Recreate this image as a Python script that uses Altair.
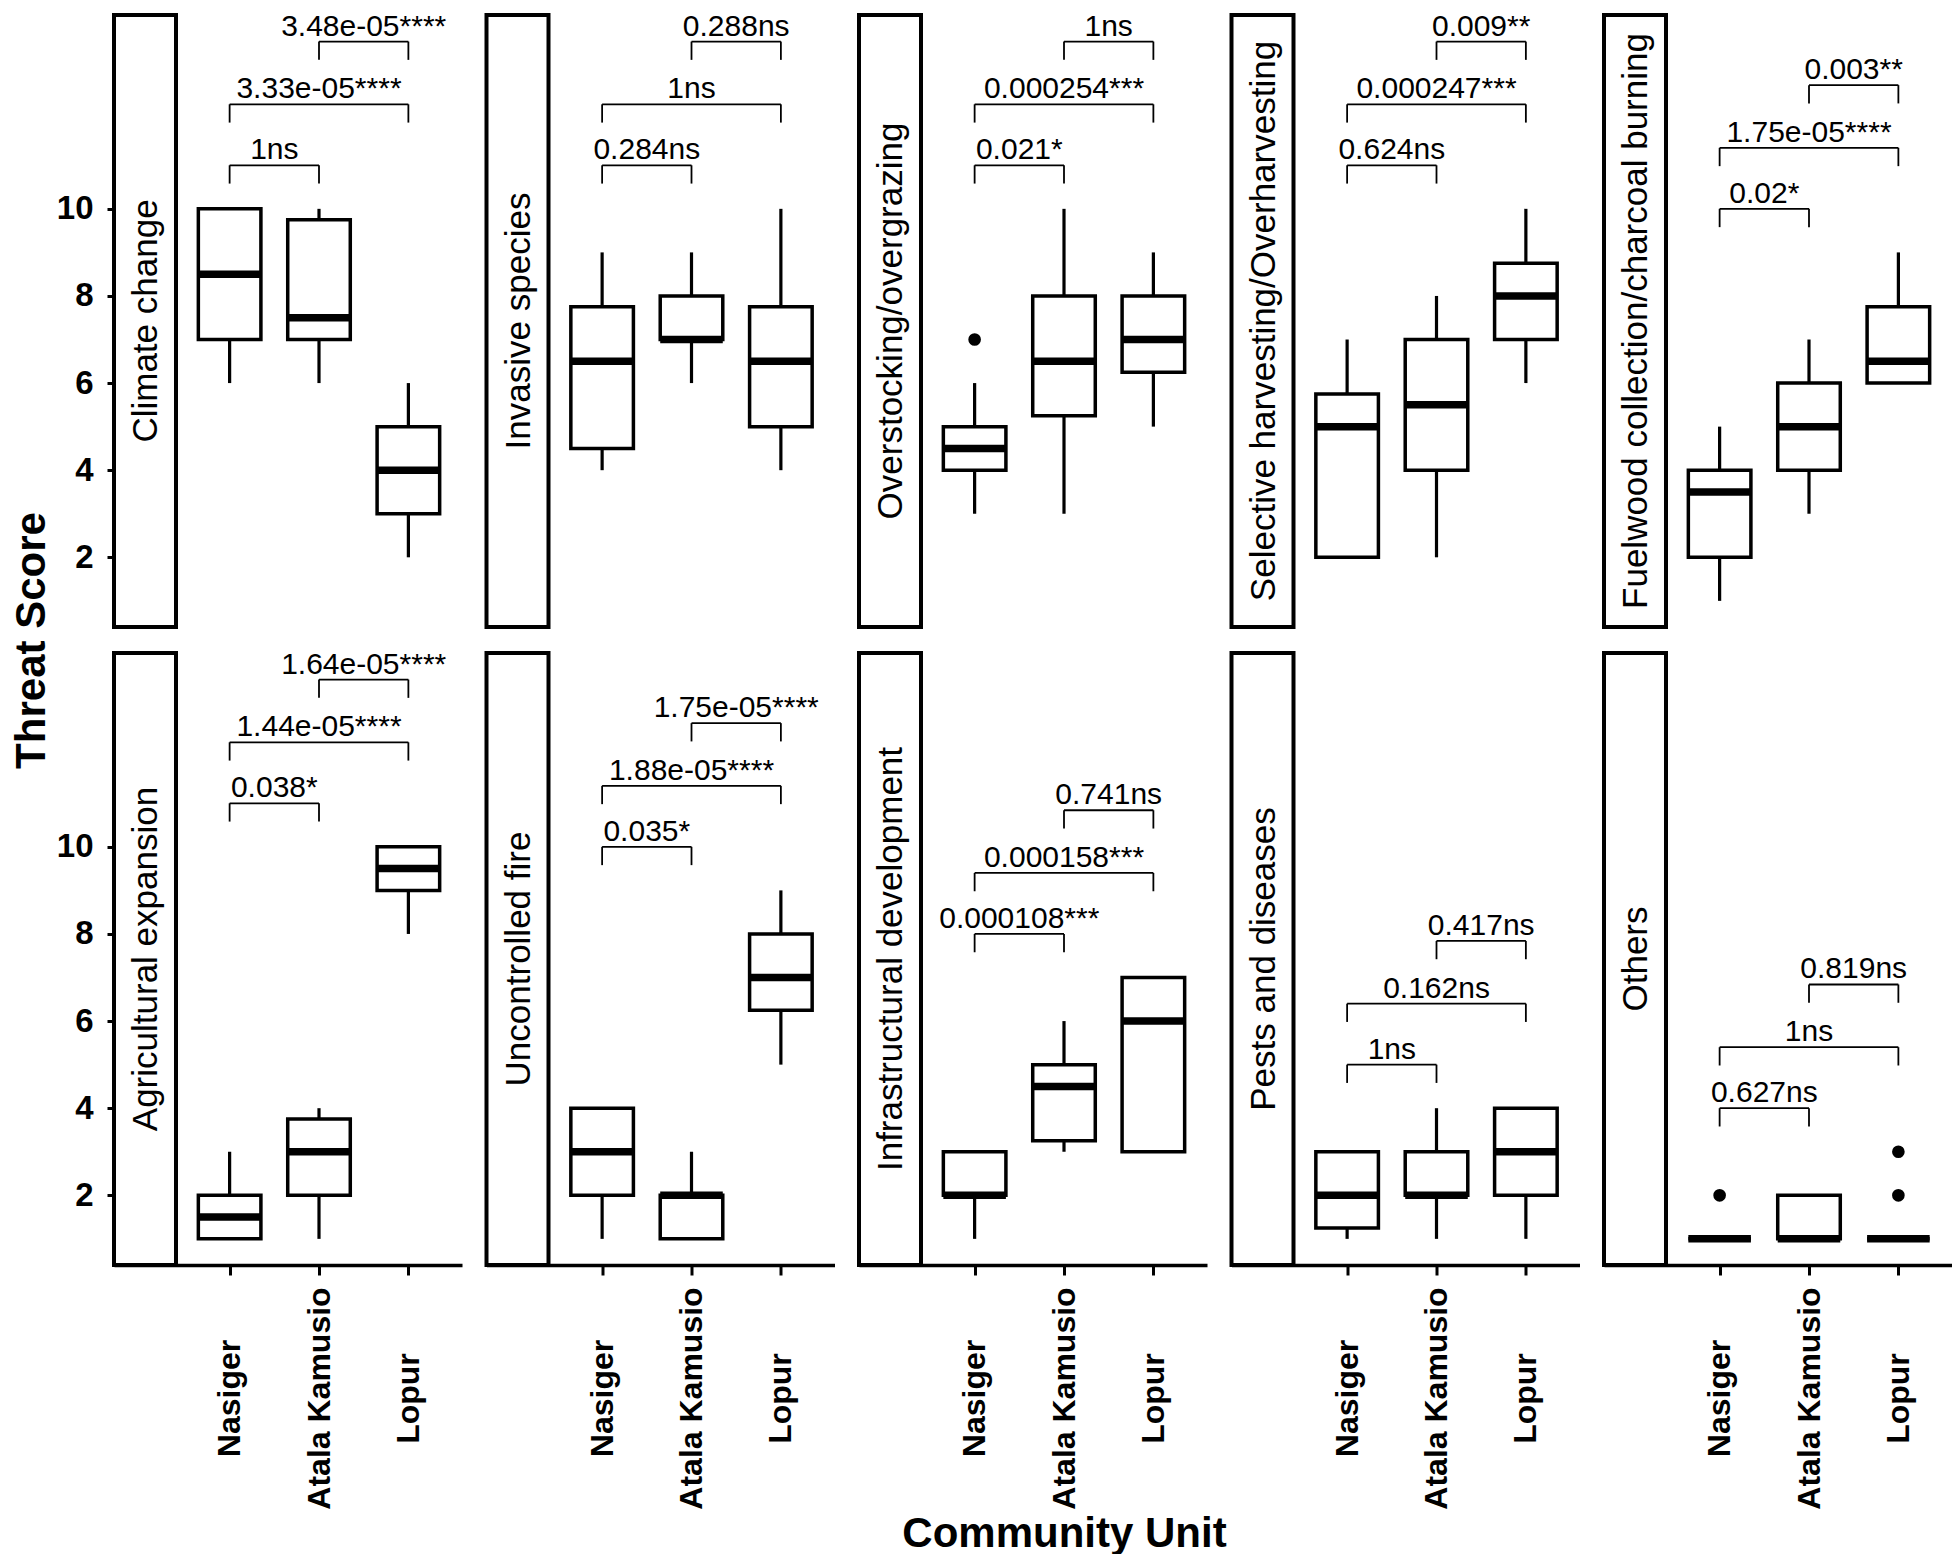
import altair as alt
import pandas as pd

# ---------------- data ----------------
communities = ["Nasiger", "Atala Kamusio", "Lopur"]
threats = [
    "Climate change",
    "Invasive species",
    "Overstocking/overgrazing",
    "Selective harvesting/Overharvesting",
    "Fuelwood collection/charcoal burning",
    "Agricultural expansion",
    "Uncontrolled fire",
    "Infrastructural development",
    "Pests and diseases",
    "Others",
]

# box statistics per threat, ordered [Nasiger, Atala Kamusio, Lopur]
whisker_low = [[6, 6, 2], [4, 6, 4], [3, 3, 5], [2, 2, 6], [1, 3, 6],
               [1, 1, 8], [1, 1, 5], [1, 3, 3], [1, 1, 1], [1, 1, 1]]
q1 = [[7, 7, 3], [4.5, 7, 5], [4, 5.25, 6.25], [2, 4, 7], [2, 4, 6],
      [1, 2, 9], [2, 1, 6.25], [2, 3.25, 3], [1.25, 2, 2], [1, 1, 1]]
median = [[8.5, 7.5, 4], [6.5, 7, 6.5], [4.5, 6.5, 7], [5, 5.5, 8], [3.5, 5, 6.5],
          [1.5, 3, 9.5], [3, 2, 7], [2, 4.5, 6], [2, 2, 3], [1, 1, 1]]
q3 = [[10, 9.75, 5], [7.75, 8, 7.75], [5, 8, 8], [5.75, 7, 8.75], [4, 6, 7.75],
      [2, 3.75, 10], [4, 2, 8], [3, 5, 7], [3, 3, 4], [1, 2, 1]]
whisker_high = [[10, 10, 6], [9, 9, 10], [6, 10, 9], [7, 8, 10], [5, 7, 9],
                [3, 4, 10], [4, 3, 9], [3, 6, 7], [3, 4, 4], [1, 2, 1]]

outlier_threat = ["Overstocking/overgrazing", "Others", "Others", "Others"]
outlier_site = ["Nasiger", "Nasiger", "Lopur", "Lopur"]
outlier_value = [7, 2, 2, 3]

# comparison brackets: pairs (Nasiger-Atala, Nasiger-Lopur, Atala-Lopur)
bracket_from = ["Nasiger", "Nasiger", "Atala Kamusio"]
bracket_to = ["Atala Kamusio", "Lopur", "Lopur"]
bracket_y = [[11, 12.4, 13.84], [11, 12.4, 13.84], [11, 12.4, 13.84], [11, 12.4, 13.84],
             [10, 11.4, 12.84], [11, 12.4, 13.84], [10, 11.4, 12.84], [8, 9.4, 10.84],
             [5, 6.4, 7.84], [4, 5.4, 6.84]]
bracket_labels = [
    ["1ns", "3.33e-05****", "3.48e-05****"],
    ["0.284ns", "1ns", "0.288ns"],
    ["0.021*", "0.000254***", "1ns"],
    ["0.624ns", "0.000247***", "0.009**"],
    ["0.02*", "1.75e-05****", "0.003**"],
    ["0.038*", "1.44e-05****", "1.64e-05****"],
    ["0.035*", "1.88e-05****", "1.75e-05****"],
    ["0.000108***", "0.000158***", "0.741ns"],
    ["1ns", "0.162ns", "0.417ns"],
    ["0.627ns", "1ns", "0.819ns"],
]

y_ticks = [2, 4, 6, 8, 10]

# ---------------- layout / style ----------------
FONT = "Liberation Sans"
STRIP_W = 62
PLOT_W = 286
PANEL_W = STRIP_W + PLOT_W
PANEL_H = 612
Y_DOMAIN = [0.4, 14.45]
UNIT = PLOT_W / 3.2
X_DOMAIN = [0.4 - STRIP_W / UNIT, 3.6]
BOX_HALF = 0.35
TIP = 0.42

pos_of = {c: i + 1 for i, c in enumerate(communities)}
label_expr = " : ".join(
    f"datum.value == {pos_of[c]} ? '{c}'" for c in communities[:-1]
) + f" : '{communities[-1]}'"

xscale = alt.Scale(domain=X_DOMAIN, nice=False, zero=False)
yscale = alt.Scale(domain=Y_DOMAIN, nice=False, zero=False)


def panel(i, row, col):
    name = threats[i]
    box_df = pd.DataFrame({
        "community": communities,
        "pos": [pos_of[c] for c in communities],
        "wl": whisker_low[i], "q1": q1[i], "med": median[i],
        "q3": q3[i], "wh": whisker_high[i],
    })
    out_df = pd.DataFrame({
        "pos": [pos_of[s] for t, s in zip(outlier_threat, outlier_site) if t == name],
        "value": [v for t, v in zip(outlier_threat, outlier_value) if t == name],
    })
    br_df = pd.DataFrame({
        "x1": [pos_of[c] for c in bracket_from],
        "x2": [pos_of[c] for c in bracket_to],
        "y": bracket_y[i],
        "label": bracket_labels[i],
    })
    strip_df = pd.DataFrame({"name": [name]})

    if row == 1:
        x_axis = alt.Axis(
            values=[1, 2, 3], labelExpr=label_expr, labelAngle=270,
            labelAlign="center", labelBaseline="middle", labelPadding=123,
            labelFont=FONT, labelFontSize=32, labelFontWeight="bold",
            labelColor="black", labelFlush=False, labelOverlap=False,
            labelLimit=500,
            tickSize=10, tickWidth=3, tickColor="black",
            domainColor="black", domainWidth=3.5, grid=False,
            title=("Community Unit" if col == 2 else None),
            titleFont=FONT, titleFontSize=42, titleFontWeight="bold",
            titleColor="black", titleX=STRIP_W + PLOT_W / 2, titleY=268,
            titleAlign="center", titleBaseline="middle", titleAngle=0,
        )
    else:
        x_axis = None

    if col == 0:
        y_axis = alt.Axis(
            values=y_ticks, labelFont=FONT, labelFontSize=33, labelFontWeight="bold",
            labelColor="black", labelPadding=14, tickSize=7, tickWidth=3,
            tickColor="black", domainColor="black", domainWidth=3.5, grid=False,
            labelFlush=False,
            title=("Threat Score" if row == 0 else None),
            titleFont=FONT, titleFontSize=42, titleFontWeight="bold",
            titleColor="black", titleAngle=270, titleX=-83, titleY=PANEL_H + 13,
            titleAlign="center", titleBaseline="middle",
        )
    else:
        y_axis = None

    def X(f):
        return alt.X(f, type="quantitative", scale=xscale, axis=x_axis)

    def Y(f):
        return alt.Y(f, type="quantitative", scale=yscale, axis=y_axis)

    strip = alt.Chart(strip_df).mark_rect(
        fill="white", stroke="black", strokeWidth=4
    ).encode(
        x=alt.value(0), x2=alt.value(STRIP_W), y=alt.value(0), y2=alt.value(PANEL_H)
    )
    strip_text = alt.Chart(strip_df).mark_text(
        angle=270, align="center", baseline="middle", font=FONT,
        fontSize=35, color="black"
    ).encode(
        x=alt.value(STRIP_W / 2 + 1), y=alt.value(PANEL_H / 2), text="name:N"
    )

    base = alt.Chart(box_df)
    wlow = base.mark_rule(color="black", strokeWidth=3.2).encode(
        x=X("pos"), y=Y("wl"), y2="q1")
    whigh = base.mark_rule(color="black", strokeWidth=3.2).encode(
        x=X("pos"), y=Y("q3"), y2="wh")
    boxes = base.transform_calculate(
        xa=f"datum.pos - {BOX_HALF}", xb=f"datum.pos + {BOX_HALF}"
    ).mark_rect(fill="white", stroke="black", strokeWidth=3.5).encode(
        x=X("xa"), x2="xb", y=Y("q1"), y2="q3")
    meds = base.transform_calculate(
        xa=f"datum.pos - {BOX_HALF}", xb=f"datum.pos + {BOX_HALF}"
    ).mark_rule(color="black", strokeWidth=7.5, strokeCap="butt").encode(
        x=X("xa"), x2="xb", y=Y("med"))

    layers = [strip, strip_text, wlow, whigh, boxes, meds]

    if len(out_df):
        outs = alt.Chart(out_df).mark_circle(color="black", opacity=1, size=160).encode(
            x=X("pos"), y=Y("value"))
        layers.append(outs)

    bb = alt.Chart(br_df).transform_calculate(
        ylow=f"datum.y - {TIP}", xm="(datum.x1 + datum.x2) / 2"
    )
    bh = bb.mark_rule(color="black", strokeWidth=1.8).encode(
        x=X("x1"), x2="x2", y=Y("y"))
    bl = bb.mark_rule(color="black", strokeWidth=1.8).encode(
        x=X("x1"), y=Y("y"), y2="ylow")
    br = bb.mark_rule(color="black", strokeWidth=1.8).encode(
        x=X("x2"), y=Y("y"), y2="ylow")
    bt = bb.mark_text(
        font=FONT, fontSize=30, color="black", align="center",
        baseline="alphabetic", dy=-6
    ).encode(x=X("xm"), y=Y("y"), text="label:N")
    layers += [bh, bl, br, bt]

    return alt.layer(*layers).properties(width=PANEL_W, height=PANEL_H)


panels = [panel(i, i // 5, i % 5) for i in range(10)]

chart = alt.concat(
    *panels, columns=5, bounds="flush",
    spacing=alt.RowColnumber(row=26, column=24.5),
).properties(
    padding={"top": 3, "left": 2, "right": 0, "bottom": 0}, background="white"
).configure_view(stroke=None)

chart.save("out.html", embed_options={"renderer": "svg", "actions": False})
